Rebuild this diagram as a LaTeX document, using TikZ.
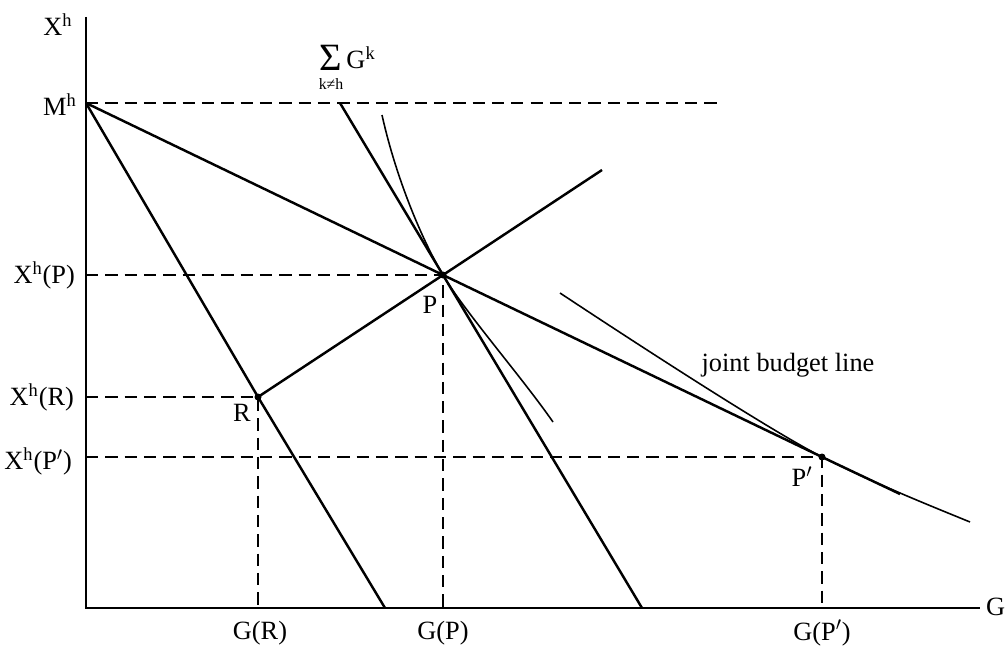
\documentclass[tikz,border=0pt]{standalone}
\usepackage{fontspec}
\setmainfont{Liberation Serif}
\begin{document}
\begin{tikzpicture}[x=0.02cm, y=0.02cm,
  every node/.style={font=\fontsize{15}{18}\selectfont, inner sep=1pt},
  mainline/.style={line width=1.4pt},
  indiff/.style={line width=0.9pt},
  guide/.style={line width=1pt, dash pattern=on 7pt off 4pt},
  axis/.style={line width=1.1pt}]

  \useasboundingbox (-86,-39) rectangle (922,608);

  % points
  \coordinate (O) at (0,0);
  \coordinate (M) at (0,505);
  \coordinate (R) at (172,211);
  \coordinate (P) at (357,333);
  \coordinate (Pp) at (736,151);

  % axes
  \coordinate (ytop) at (0,591);
  \coordinate (xend) at (894,0);
  \draw[axis] (ytop) -- (O) -- (xend);
  \node at (-28,583) {X\textsuperscript{h}};
  \node[anchor=west] at (898,1) {G};
  \node at (-26,503) {M\textsuperscript{h}};

  % income level
  \draw[guide] (M) -- (634,505);

  % individual line through R
  \draw[mainline] (M) -- (R) -- (299,0);

  % sum of others' contributions
  \draw[mainline] (254,505) -- (P) -- (556,0);
  \node[font=\fontsize{22}{22}\selectfont] (sigma) at (245,550) {Σ};
  \node[font=\fontsize{9}{10}\selectfont] (sub) at (245,524) {k≠h};
  \node[anchor=west] (gk) at (sigma.east) {G\textsuperscript{k}};

  % joint budget line
  \draw[mainline] (M) -- (P) -- (Pp) -- (814,114);
  \node at (702,243) {joint budget line};

  % ray from R through P
  \draw[mainline] (R) -- (P) -- (516,438);

  % indifference curves
  \draw[indiff] (296,493) .. controls (310,430) and (336,368) .. (P)
    .. controls (378,297) and (435,232) .. (467,186);
  \draw[indiff] (474,315) .. controls (545,268) and (680,180) .. (Pp)
    .. controls (790,124) and (840,104) .. (884,86);

  % guides to the axes
  \draw[guide] (O |- P) -- (P) -- (P |- O);
  \draw[guide] (O |- R) -- (R) -- (R |- O);
  \draw[guide] (O |- Pp) -- (Pp) -- (Pp |- O);

  % points
  \fill (R) circle (3.5);
  \fill (P) circle (3.5);
  \fill (Pp) circle (3.5);
  \node at (344,303) {P};
  \node at (156,195) {R};
  \node at (716,131) {P$'$};

  % axis labels
  \node[anchor=east] at (-9,333) {X\textsuperscript{h}(P)};
  \node[anchor=east] at (-10,211) {X\textsuperscript{h}(R)};
  \node[anchor=east] at (-12,147) {X\textsuperscript{h}(P$'$)};
  \node at (174,-25) {G(R)};
  \node at (357,-25) {G(P)};
  \node at (736,-25) {G(P$'$)};
\end{tikzpicture}
\end{document}
